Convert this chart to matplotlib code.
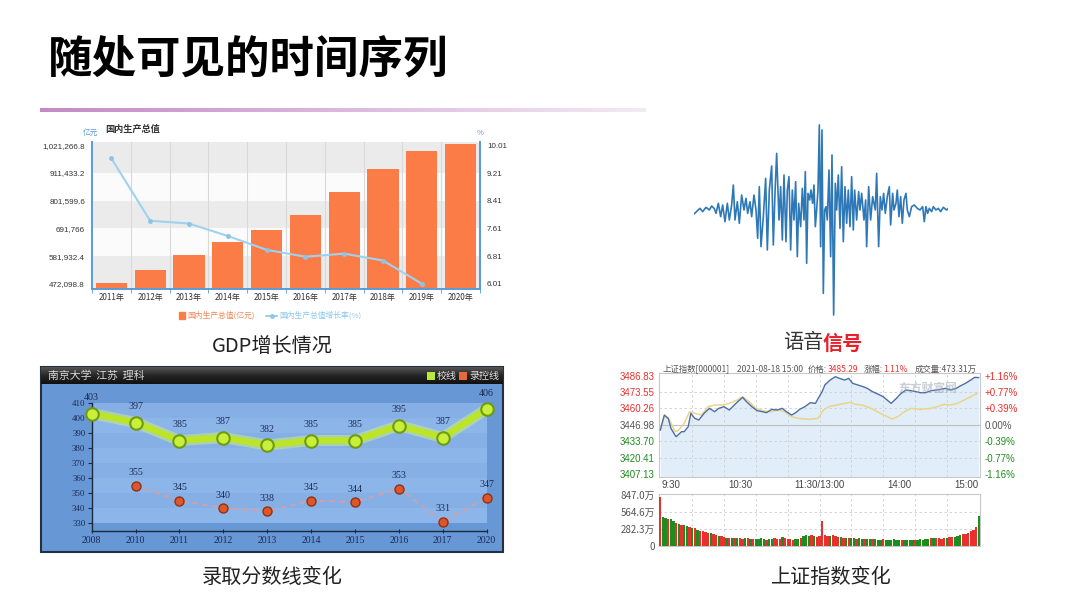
import numpy as np
import matplotlib
matplotlib.use("Agg")
import matplotlib.pyplot as plt
from matplotlib.colors import LinearSegmentedColormap
from matplotlib.patches import Rectangle
from matplotlib.lines import Line2D

plt.rcParams['font.family'] = ['Noto Sans CJK SC', 'DejaVu Sans']

# ------------------------------------------------------------------ data
title_text = "随处可见的时间序列"

gdp_years = ["2011年", "2012年", "2013年", "2014年", "2015年",
             "2016年", "2017年", "2018年", "2019年", "2020年"]
gdp_values = [476000, 528000, 585000, 637000, 686000,
              745000, 835000, 926000, 997000, 1026000]
gdp_growth = [9.63, 7.83, 7.75, 7.39, 6.99, 6.79, 6.88, 6.68, 6.01, np.nan]
gdp_left_ticks = [472098.8, 581932.4, 691766, 801599.6, 911433.2, 1021266.8]
gdp_left_labels = ["472,098.8", "581,932.4", "691,766", "801,599.6",
                   "911,433.2", "1,021,266.8"]
gdp_right_ticks = [6.01, 6.81, 7.61, 8.41, 9.21, 10.01]

wave_t = [42, 60, 68, 78, 88, 95, 103, 108, 115, 122, 128, 135, 142, 148, 155,
          160, 165, 172, 178, 185, 192, 198, 203, 210, 215, 222, 228, 233, 238,
          243, 250, 257, 262, 268, 275, 280, 285, 290, 297, 302, 307, 312, 318,
          322, 327, 332, 337, 342, 347, 352, 356, 362, 367, 372, 376, 380, 384,
          389, 393, 398, 402, 406, 410, 414, 418, 422, 426, 430, 434, 438, 442,
          447, 452, 456, 461, 466, 470, 475, 480, 485, 490, 495, 500, 505, 510,
          515, 520, 524, 530, 536, 540, 545, 552, 557, 560, 566, 572, 578, 586,
          590, 596, 601, 606, 611, 616, 622, 628, 632, 638, 642, 648, 652, 657,
          662, 667, 672, 678, 682, 688, 695, 703, 712, 720, 728, 733, 738, 743,
          748, 755, 760, 768, 775, 782, 790, 800, 805]
wave_amp = [-0.12, 0.05, -0.05, 0.08, 0.0, 0.12, 0.04, -0.10, 0.20, -0.20, 0.15,
            -0.35, 0.20, -0.30, 0.15, 0.75, -0.30, 0.25, -0.40, 0.45, 0.0, 0.35,
            -0.10, 0.25, -0.20, 0.45, 0.0, -0.85, 0.70, -1.10, -0.20, 0.95, -1.20,
            0.60, 1.32, -1.05, 0.50, 1.70, -0.30, 0.70, -0.90, 1.05, -0.95, 0.60,
            1.00, -1.20, 0.60, -0.30, 0.85, -1.40, 0.20, -0.50, 0.65, -0.30, 1.15,
            -1.60, 0.50, 0.30, 0.60, 0.20, 0.75, -0.50, 0.0, 0.60, 2.55, -1.10,
            2.40, -2.50, 0.0, 0.10, -0.30, 1.20, -1.40, 1.65, -3.15, 0.80, 0.0,
            1.05, -0.55, 1.30, -0.95, 0.70, -0.40, 0.60, -0.50, 1.00, -0.60, 0.60,
            -0.30, 0.55, 0.0, 0.50, -0.30, 0.30, -1.10, 0.70, -0.30, 0.40, 0.0,
            1.10, -1.10, 0.40, 0.0, 0.50, -0.10, 0.40, 0.70, -0.45, 0.50, 0.0,
            0.20, 0.60, -0.20, 0.40, -0.40, 0.30, 0.50, 0.0, -0.20, 0.10, 0.15,
            0.05, 0.0, 0.10, -0.35, 0.10, -0.10, 0.05, -0.05, 0.10, 0.0, 0.05,
            -0.05, 0.08, 0.0, 0.05]

adm_years = ["2008", "2010", "2011", "2012", "2013", "2014", "2015", "2016", "2017", "2020"]
adm_school = [403, 397, 385, 387, 382, 385, 385, 395, 387, 406]
adm_control = [np.nan, 355, 345, 340, 338, 345, 344, 353, 331, 347]
adm_yticks = [330, 340, 350, 360, 370, 380, 390, 400, 410]

stock_minutes = [0, 3, 6, 8, 11, 12, 16, 18, 21, 23, 26, 29, 33, 37, 41, 44, 48, 52,
                 57, 62, 65, 69, 73, 77, 80, 84, 88, 92, 95, 99, 102, 105, 109, 113,
                 117, 119, 122, 124, 128, 132, 135, 139, 142, 145, 149, 153, 156, 160,
                 164, 168, 171, 174, 178, 181, 185, 189, 193, 196, 200, 204, 208, 211,
                 215, 219, 223, 226, 230, 234, 237, 240]
stock_price = [3442.80, 3454.95, 3452.24, 3444.14, 3438.73, 3437.38, 3441.44, 3441.44,
               3445.49, 3456.30, 3452.24, 3450.89, 3456.30, 3460.35, 3457.65, 3460.35,
               3461.70, 3459.00, 3464.40, 3469.27, 3465.75, 3461.70, 3458.46, 3457.65,
               3456.84, 3459.54, 3459.00, 3460.35, 3457.65, 3454.95, 3456.84, 3459.54,
               3461.70, 3464.94, 3464.40, 3468.46, 3473.86, 3479.26, 3483.32, 3486.02,
               3484.67, 3483.32, 3484.67, 3480.62, 3479.26, 3477.91, 3476.56, 3473.86,
               3471.97, 3469.81, 3467.11, 3464.40, 3468.46, 3471.97, 3475.21, 3474.67,
               3473.86, 3473.05, 3473.05, 3474.67, 3475.21, 3475.75, 3476.56, 3475.21,
               3476.56, 3478.45, 3480.62, 3483.32, 3485.48, 3485.29]
avg_minutes = [0, 3, 7, 11, 14, 18, 22, 26, 31, 36, 41, 47, 52, 58, 62, 67, 72, 77,
               83, 89, 94, 99, 104, 112, 119, 123, 127, 133, 139, 143, 147, 152, 159,
               166, 171, 175, 179, 184, 189, 196, 204, 209, 214, 219, 224, 229, 234, 239]
avg_price = [3442.80, 3453.60, 3450.89, 3441.44, 3442.80, 3448.19, 3457.65, 3456.30,
             3454.95, 3461.70, 3463.05, 3463.05, 3464.40, 3467.11, 3469.81, 3465.75,
             3460.35, 3458.46, 3457.65, 3459.00, 3457.65, 3453.60, 3452.24, 3451.43,
             3452.24, 3459.00, 3461.70, 3463.05, 3464.40, 3465.21, 3463.59, 3463.05,
             3460.35, 3456.30, 3453.60, 3451.70, 3453.60, 3457.65, 3460.35, 3459.54,
             3460.35, 3461.70, 3463.59, 3463.05, 3464.40, 3467.11, 3469.81, 3472.51]
price_ticks = [3486.83, 3473.55, 3460.26, 3446.98, 3433.70, 3420.41, 3407.13]
pct_labels = ["+1.16%", "+0.77%", "+0.39%", "0.00%", "-0.39%", "-0.77%", "-1.16%"]
time_labels = ["9:30", "10:30", "11:30/13:00", "14:00", "15:00"]
time_label_minutes = [0, 60, 120, 180, 240]
volume_wan = [810, 480, 470, 450, 440, 420, 380, 370, 350, 340,
              330, 310, 300, 290, 260, 250, 240, 225, 215, 210,
              195, 185, 170, 160, 150, 140, 135, 130, 125, 140,
              130, 120, 125, 135, 120, 115, 110, 120, 125, 110,
              105, 115, 120, 125, 110, 120, 150, 130, 115, 110,
              105, 110, 120, 140, 170, 180, 160, 175, 165, 150,
              170, 410, 175, 165, 170, 180, 160, 155, 150, 140,
              135, 130, 130, 125, 120, 125, 120, 115, 110, 120,
              115, 110, 105, 100, 110, 105, 95, 100, 110, 100,
              95, 100, 95, 100, 105, 95, 100, 105, 110, 100,
              110, 120, 130, 140, 130, 125, 120, 130, 140, 150,
              145, 150, 170, 180, 190, 200, 220, 240, 270, 320,
              490]
volume_dir = ("u" + "ddud" + "dududdududu" + "uuuduuduu" + "dududuududu" +
              "ddddudd" + "uuuduuuu" + "dduddd" + "uduuu" + "uuduuudu" +
              "dudduddudduddduddd" + "ddduddddudddddud" + "uuuuduu" + "ddd" +
              "uuuuuu" + "d")
volume_ticks = [0, 282.3, 564.6, 847.0]
volume_labels = ["0", "282.3万", "564.6万", "847.0万"]

# ------------------------------------------------------------------ helpers
W, H = 1080, 608
fig = plt.figure(figsize=(10.8, 6.08), dpi=100)
fig.patch.set_facecolor("white")
renderer = fig.canvas.get_renderer()


def box(l, t, r, b):
    return [l / W, 1 - b / H, (r - l) / W, (b - t) / H]


def ftext(x, y, s, **kw):
    return fig.text(x / W, 1 - y / H, s, **kw)


def seq_text(x0, y, parts, fontsize, anchor="left"):
    """parts: list of (text, color, gap_after_px)."""
    widths = []
    for s, c, g in parts:
        t = ftext(0, y, s, fontsize=fontsize, color=c, ha="left", va="center")
        widths.append(t.get_window_extent(renderer).width)
        t.remove()
    total = sum(widths) + sum(g for _, _, g in parts[:-1])
    x = x0 if anchor == "left" else x0 - total
    for (s, c, g), w in zip(parts, widths):
        ftext(x, y, s, fontsize=fontsize, color=c, ha="left", va="center")
        x += w + g


# ------------------------------------------------------------------ title
ftext(48, 59, title_text, fontsize=32, fontweight="heavy", color="black",
      ha="left", va="center")
ax_line = fig.add_axes(box(40, 107.5, 646, 112.5))
grad_cmap = LinearSegmentedColormap.from_list("g", ["#c48ac6", "#dcb8de", "#f4eaf4"])
ax_line.imshow(np.linspace(0, 1, 256)[None, :], aspect="auto", cmap=grad_cmap)
ax_line.axis("off")

# ------------------------------------------------------------------ GDP chart
blue_axis = "#5b9bd5"
ax_g = fig.add_axes(box(92, 142, 480, 289))
ylo, yhi = 451230, 1034447
ax_g.set_ylim(ylo, yhi)
ax_g.set_xlim(-0.5, len(gdp_years) - 0.5)
bounds = [ylo] + gdp_left_ticks[1:-1] + [yhi]
for i in range(len(bounds) - 1):
    ax_g.axhspan(bounds[i], bounds[i + 1],
                 color="#ebebeb" if i % 2 == 0 else "#fbfbfb", lw=0, zorder=0)
for i in range(len(gdp_years) - 1):
    ax_g.axvline(i + 0.5, color="#d9d9d9", lw=0.8, zorder=0.5)
x = np.arange(len(gdp_years))
ax_g.bar(x, gdp_values, width=0.8, color="#fb7c46", zorder=2)
ax_g.set_yticks(gdp_left_ticks)
ax_g.set_yticklabels(gdp_left_labels, fontsize=5.8, color="#333333",
                     family=["Liberation Sans"])
ax_g.set_xticks(x)
ax_g.set_xticklabels(gdp_years, fontsize=5.8, color="#333333")
ax_g.set_xticks(np.arange(-0.5, len(gdp_years)), minor=True)
ax_g.tick_params(axis="x", which="major", length=0, pad=3)
ax_g.tick_params(axis="x", which="minor", length=3, color=blue_axis, direction="out")
ax_g.tick_params(axis="y", length=0, pad=5)
ax_g.spines["top"].set_visible(False)
for s in ["left", "right", "bottom"]:
    ax_g.spines[s].set_color(blue_axis)
    ax_g.spines[s].set_linewidth(1.4)

ax_g2 = ax_g.twinx()
ax_g2.set_ylim(5.858, 10.106)
ax_g2.plot(x, gdp_growth, color="#9fd2f0", lw=1.5, marker="o", ms=2.5,
           markerfacecolor="#8cc4e6", markeredgecolor="#8cc4e6", zorder=3)
ax_g2.set_yticks(gdp_right_ticks)
ax_g2.set_yticklabels([f"{v:.2f}" for v in gdp_right_ticks], fontsize=5.8,
                      color="#333333", family=["Liberation Sans"])
ax_g2.tick_params(axis="y", length=0, pad=5)
for s in ["top", "left", "bottom"]:
    ax_g2.spines[s].set_visible(False)
ax_g2.spines["right"].set_color(blue_axis)
ax_g2.spines["right"].set_linewidth(1.4)

ftext(105, 129, "国内生产总值", fontsize=6.6, fontweight="bold", color="#333333",
      ha="left", va="center")
ftext(83, 133, "亿元", fontsize=5.5, color=blue_axis, ha="left", va="center")
ftext(480, 133, "%", fontsize=5.5, color=blue_axis, ha="center", va="center")
# legend
fig.add_artist(Rectangle((178.5 / W, 1 - 319.5 / H), 6 / W, 7 / H,
                         transform=fig.transFigure, color="#fb7c46"))
ftext(187, 315.7, "国内生产总值(亿元)", fontsize=5.6, color="#f5875a",
      ha="left", va="center")
fig.add_artist(Line2D([266 / W, 277 / W], [1 - 315.7 / H, 1 - 315.7 / H],
                      transform=fig.transFigure, color="#8cc8ea", lw=1.2))
fig.add_artist(Line2D([271.5 / W], [1 - 315.7 / H], transform=fig.transFigure,
                      marker="o", ms=2.5, color="#8cc8ea"))
ftext(279, 315.7, "国内生产总值增长率(%)", fontsize=5.6, color="#8cc8ea",
      ha="left", va="center")
ftext(272, 346, "GDP增长情况", fontsize=14.5, color="#222222", ha="center", va="center")

# ------------------------------------------------------------------ waveform
ax_w = fig.add_axes(box(694, 120, 948.3, 320))
ax_w.plot(wave_t, wave_amp, color="#2f78b7", lw=1.2)
ax_w.set_xlim(42, 805)
ax_w.set_ylim(-3.3, 2.7)
ax_w.axis("off")
ftext(823, 343, "语音", fontsize=14.5, color="#333333", ha="right", va="center")
ftext(823, 343, "信号", fontsize=14.5, color="#e8202a", fontweight="bold",
      ha="left", va="center")

# ------------------------------------------------------------------ admissions chart
fig.add_artist(Rectangle((41 / W, 1 - 552 / H), 462 / W, 185 / H,
                         transform=fig.transFigure, facecolor="#6797d5",
                         edgecolor="#24303e", lw=1.5, zorder=0))
ax_tb = fig.add_axes(box(41, 367, 503, 384))
tb_cmap = LinearSegmentedColormap.from_list("tb", ["#555555", "#262626", "#111111"])
ax_tb.imshow(np.linspace(0, 1, 64)[:, None], aspect="auto", cmap=tb_cmap)
ax_tb.axis("off")
ftext(48, 375.5, "南京大学  江苏  理科", fontsize=7.8, color="#d8d8d8",
      ha="left", va="center")
seq_text(499, 376, [("■", "#b8ea3a", 1), ("校线", "#e0e0e0", 1),
                    ("■", "#e86a3a", 1), ("录控线", "#e0e0e0", 0)],
         fontsize=7.2, anchor="right")

ax_a = fig.add_axes(box(91.7, 403, 486.7, 531))
ax_a.set_facecolor("none")
ax_a.set_xlim(0, len(adm_years) - 1)
ax_a.set_ylim(324.7, 410)
for i in range(len(adm_yticks) - 1):
    ax_a.axhspan(adm_yticks[i], adm_yticks[i + 1],
                 color="#8cb5e9" if i % 2 == 0 else "#86b0e5", lw=0, zorder=0)
xa = np.arange(len(adm_years))
ax_a.plot(xa, adm_school, color="#d8f870", lw=8, alpha=0.45, zorder=2,
          solid_capstyle="round", clip_on=False)
ax_a.plot(xa, adm_school, color="#bce625", lw=4.5, zorder=3, marker="o", ms=9,
          markerfacecolor="#c8f03a", markeredgecolor="#6f9a12", markeredgewidth=1.5,
          clip_on=False)
ax_a.plot(xa, adm_control, color="#e59a9a", lw=1.3, ls=(0, (3, 2.5)), alpha=0.9,
          zorder=3, clip_on=False)
ax_a.plot(xa, adm_control, lw=0, marker="o", ms=6.5, markerfacecolor="#e0562a",
          markeredgecolor="#8a3418", markeredgewidth=1.0, zorder=4, clip_on=False)
label_color = "#1c2a55"
for xi, v in zip(xa, adm_school):
    ax_a.annotate(str(v), (xi, v), xytext=(0, 8), textcoords="offset points",
                  ha="center", va="bottom", fontsize=7.2, color=label_color,
                  family=["Liberation Serif"], zorder=5)
for xi, v in zip(xa, adm_control):
    if np.isnan(v):
        continue
    ax_a.annotate(str(int(v)), (xi, v), xytext=(0, 6), textcoords="offset points",
                  ha="center", va="bottom", fontsize=7.2, color=label_color,
                  family=["Liberation Serif"], zorder=5)
ax_a.set_yticks(adm_yticks)
ax_a.set_yticklabels([str(v) for v in adm_yticks], fontsize=6.4, color=label_color,
                     family=["Liberation Serif"])
ax_a.set_xticks(xa)
ax_a.set_xticklabels(adm_years, fontsize=7, color=label_color,
                     family=["Liberation Serif"])
ax_a.tick_params(axis="y", length=3, color="#1c2a40", pad=1.5)
ax_a.tick_params(axis="x", length=3, color="#1c2a40", direction="inout", pad=2)
for s in ["top", "right"]:
    ax_a.spines[s].set_visible(False)
for s in ["left", "bottom"]:
    ax_a.spines[s].set_color("#1c2a40")
    ax_a.spines[s].set_linewidth(1.0)
ftext(272, 577, "录取分数线变化", fontsize=14.5, color="#222222",
      ha="center", va="center")

# ------------------------------------------------------------------ stock chart
red = "#e8302e"
green = "#1e8c1e"
gray_t = "#555555"
seq_text(663, 369.5, [("上证指数[000001]", gray_t, 6.5), ("2021-08-18 15:00", gray_t, 5.5),
                      ("价格:", gray_t, 0.5), ("3485.29", red, 5.5),
                      ("涨幅:", gray_t, 0.5), ("1.11%", red, 6.5),
                      ("成交量:473.31万", gray_t, 0)], fontsize=6.05)

ax_s = fig.add_axes(box(659, 373.3, 980, 477.3))
ax_s.set_xlim(-1, 241)
ax_s.set_ylim(3404.45, 3488.78)
ax_s.fill_between(stock_minutes, stock_price, 3404.45, color="#dcecf8", alpha=0.85,
                  lw=0, zorder=1)
ax_s.plot(avg_minutes, avg_price, color="#e9d58a", lw=1.1, zorder=3)
ax_s.plot(stock_minutes, stock_price, color="#4b6ea8", lw=1.0, zorder=4)
for k, v in enumerate(price_ticks):
    if k == 3:
        ax_s.axhline(v, color="#bdbdbd", lw=0.8, zorder=2)
    elif 0 < k < len(price_ticks) - 1:
        ax_s.axhline(v, color="#cfcfcf", lw=0.6, ls=(0, (3, 3)), zorder=2)
for m in range(24, 240, 24):
    ax_s.axvline(m, color="#cfcfcf", lw=0.6, ls=(0, (3, 3)), zorder=2)
ax_s.set_yticks(price_ticks)
ax_s.set_yticklabels([f"{v:.2f}" for v in price_ticks], fontsize=7,
                     family=["Liberation Sans"])
for k, lab in enumerate(ax_s.get_yticklabels()):
    lab.set_color(red if k < 3 else ("#555555" if k == 3 else green))
ax_s.tick_params(axis="y", length=0, pad=3)
ax_s.set_xticks([])
for s in ax_s.spines.values():
    s.set_color("#c8c8c8")
    s.set_linewidth(0.8)
ax_s.text(0.93, 0.86, "东方财富网", transform=ax_s.transAxes, fontsize=8.5,
          color="#9aa6b2", alpha=0.55, ha="right", va="center", style="italic",
          fontweight="bold", zorder=5)
ax_sr = ax_s.twinx()
ax_sr.set_ylim(ax_s.get_ylim())
ax_sr.set_yticks(price_ticks)
ax_sr.set_yticklabels(pct_labels, fontsize=7, family=["Liberation Sans"])
for k, lab in enumerate(ax_sr.get_yticklabels()):
    lab.set_color(red if k < 3 else ("#555555" if k == 3 else green))
ax_sr.tick_params(axis="y", length=0, pad=3)
for s in ax_sr.spines.values():
    s.set_visible(False)

for m, lab in zip(time_label_minutes, time_labels):
    ha = "left" if m == 0 else ("right" if m == 240 else "center")
    xp = 659 + (m + 1) * 321 / 242
    if m == 0:
        xp = 662
    ftext(xp, 484.5, lab, fontsize=7, color="#444444", ha=ha, va="center",
          family=["Liberation Sans", "Noto Sans CJK SC"])

ax_v = fig.add_axes(box(659, 494, 980, 546))
ax_v.set_xlim(-1, 241)
ax_v.set_ylim(0, 858)
vol_x = np.arange(len(volume_wan)) * 2
vol_colors = [red if d == "u" else green for d in volume_dir]
ax_v.bar(vol_x, volume_wan, width=1.75, color=vol_colors, lw=0, zorder=3)
for v in volume_ticks[1:3]:
    ax_v.axhline(v, color="#cfcfcf", lw=0.6, ls=(0, (3, 3)), zorder=1)
for m in range(24, 240, 24):
    ax_v.axvline(m, color="#cfcfcf", lw=0.6, ls=(0, (3, 3)), zorder=1)
ax_v.set_yticks(volume_ticks)
ax_v.set_yticklabels(volume_labels, fontsize=7, color="#555555")
ax_v.tick_params(axis="y", length=0, pad=3)
ax_v.set_xticks([])
for s in ax_v.spines.values():
    s.set_color("#c8c8c8")
    s.set_linewidth(0.8)

ftext(831, 577, "上证指数变化", fontsize=14.5, color="#222222", ha="center", va="center")

fig.savefig("out.png", dpi=100, facecolor="white")
